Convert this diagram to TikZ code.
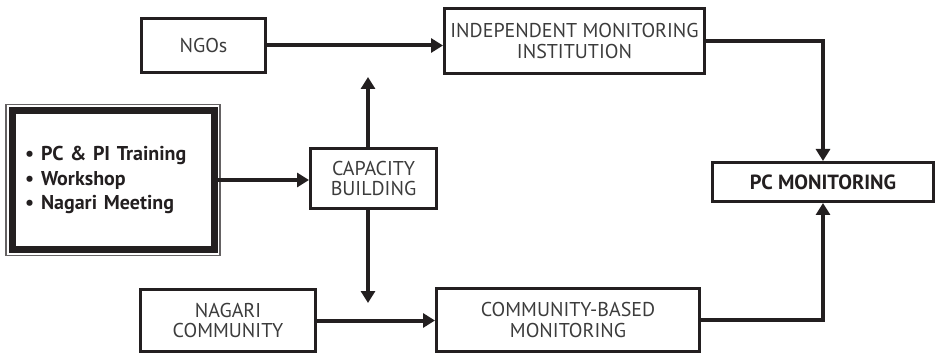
\documentclass[tikz,border=0pt]{standalone}
\usepackage{fontspec}
\setmainfont{PT Sans}
\usepackage{tikz}
\usetikzlibrary{arrows.meta,positioning,fit}
\definecolor{inkblack}{HTML}{231F20}
\definecolor{inkgray}{HTML}{3C3C3C}
\tikzset{
mbox/.style = {draw=inkblack, line width=3pt, align=center, inner sep=0pt,
text=inkgray, font=\fontsize{20}{20.5}\selectfont},% plain box
mbox_b/.style = {mbox, text=inkblack, font=\fontsize{20.5}{21}\bfseries\selectfont},% bold box
trainbox/.style = {draw=inkblack, line width=7pt, align=left, inner sep=0pt,
text=inkblack, font=\fontsize{20}{24.5}\bfseries\selectfont},% thick framed list
trainframe/.style = {draw=inkblack!70, line width=1.2pt, inner sep=2.5pt},% thin outer frame
link/.style = {draw=inkblack, line width=4pt, -{Triangle[length=12pt,width=14pt]}}
}
\begin{document}
\begin{tikzpicture}[x=1pt,y=-1pt]
  \useasboundingbox (0,0) rectangle (941,355);
  % boxes
  \node [mbox, minimum width=124pt, minimum height=54pt] (ngo) at (203.5,45.5) {NGOs};
  \node [mbox, minimum width=260pt, minimum height=65pt] (indep) at (574.5,41) {INDEPENDENT MONITORING\\INSTITUTION};
  \node [mbox, minimum width=126pt, minimum height=60pt] (cap) at (373.5,178.5) {CAPACITY\\BUILDING};
  \node [mbox_b, minimum width=221pt, minimum height=39pt] (pcm) at (823,182) {PC MONITORING};
  \node [mbox, minimum width=175pt, minimum height=62pt] (nagari) at (228,320.5) {NAGARI\\COMMUNITY};
  \node [mbox, minimum width=263pt, minimum height=63pt] (cbm) at (568,320) {COMMUNITY-BASED\\MONITORING};
  \node [trainbox, minimum width=202pt, minimum height=139.5pt, text width=176pt] (train) at (113,180)
    {\textbullet\hspace{7pt}PC \& PI Training\\
     \textbullet\hspace{7pt}Workshop\\
     \textbullet\hspace{7pt}Nagari Meeting};
  \node [trainframe, fit=(train)] (trainout) {};
  % connectors
  \coordinate (cap_up) at (368,77);
  \coordinate (cap_dn) at (368,303);
  \draw [link] (ngo.east) -- (ngo.east -| indep.west);
  \draw [link] (cap.north -| cap_up) -- (cap_up);
  \draw [link] (cap.south -| cap_dn) -- (cap_dn);
  \draw [link] (train.east) -- (train.east -| cap.west);
  \draw [link] (nagari.east) -- (nagari.east -| cbm.west);
  \draw [link] (indep.east) -| (pcm.north);
  \draw [link] (cbm.east) -| (pcm.south);
\end{tikzpicture}
\end{document}
